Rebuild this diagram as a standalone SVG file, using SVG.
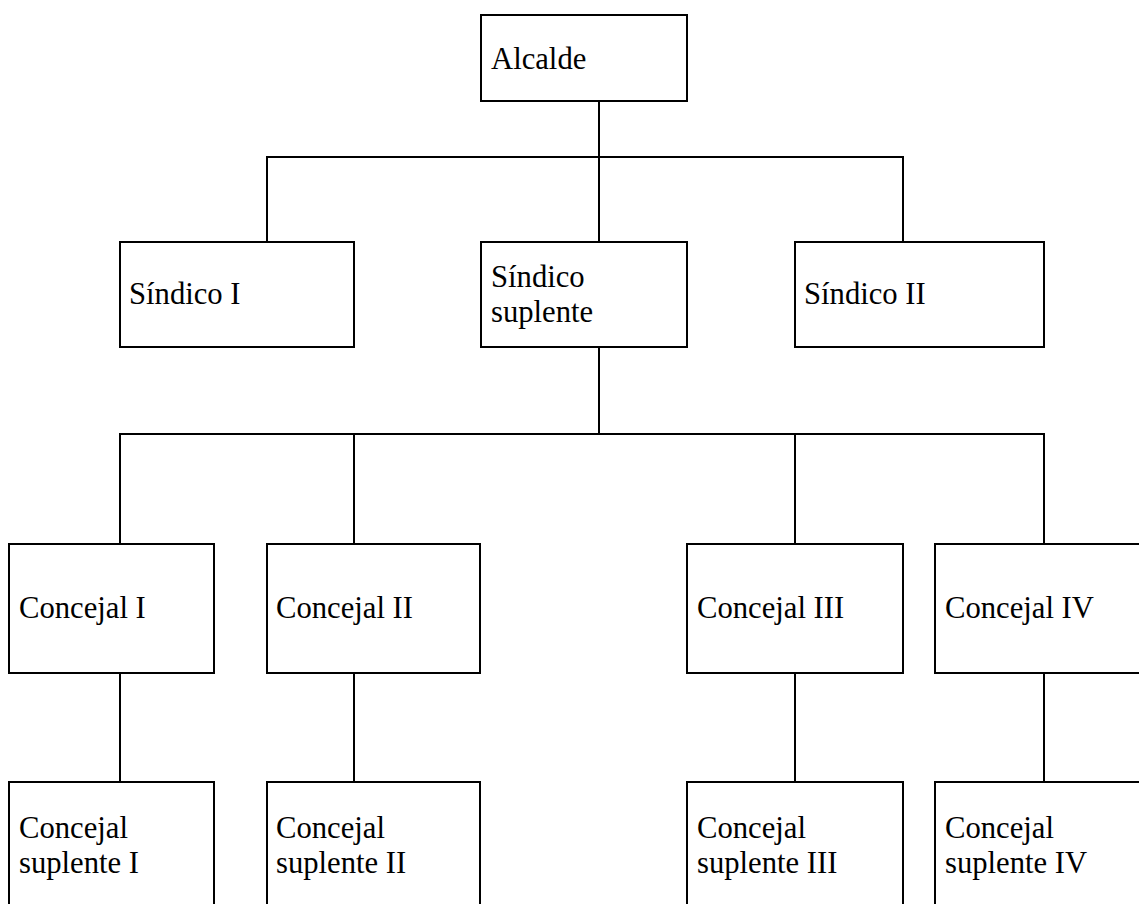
<svg xmlns="http://www.w3.org/2000/svg" width="1139" height="904" viewBox="0 0 1139 904">
<style>
.box{fill:#ffffff;stroke:#000000;stroke-width:2}
.t{font-family:"Liberation Serif","Times New Roman",serif;font-size:30.67px;fill:#000000}
.c{fill:none;stroke:#000000;stroke-width:2;stroke-linecap:square}
</style>
<rect width="1139" height="904" fill="#ffffff"/>
<g id="connectors">
<path class="c" d="M599 101V157M267 157H903M267 157V242M599 157V242M903 157V242"/>
<path class="c" d="M599 347V434M120 434H1044M120 434V544M354 434V544M795 434V544M1044 434V544"/>
<path class="c" d="M120 673V782M354 673V782M795 673V782M1044 673V782"/>
</g>
<g id="alcalde"><rect class="box" x="481" y="15" width="206" height="86"/><text class="t" x="491" y="69">Alcalde</text></g>
<g id="sindico1"><rect class="box" x="120" y="242" width="234" height="105"/><text class="t" x="129" y="304">Síndico I</text></g>
<g id="sindicoSuplente"><rect class="box" x="481" y="242" width="206" height="105"/><text class="t" x="491" y="287">Síndico</text><text class="t" x="491" y="322">suplente</text></g>
<g id="sindico2"><rect class="box" x="795" y="242" width="249" height="105"/><text class="t" x="804" y="304">Síndico II</text></g>
<g id="concejal1"><rect class="box" x="9" y="544" width="205" height="129"/><text class="t" x="19" y="618">Concejal I</text></g>
<g id="concejal2"><rect class="box" x="267" y="544" width="213" height="129"/><text class="t" x="276" y="618">Concejal II</text></g>
<g id="concejal3"><rect class="box" x="687" y="544" width="216" height="129"/><text class="t" x="697" y="618">Concejal III</text></g>
<g id="concejal4"><rect class="box" x="935" y="544" width="215" height="129"/><text class="t" x="945" y="618">Concejal IV</text></g>
<g id="suplente1"><rect class="box" x="9" y="782" width="205" height="150"/><text class="t" x="19" y="838">Concejal</text><text class="t" x="19" y="873">suplente I</text></g>
<g id="suplente2"><rect class="box" x="267" y="782" width="213" height="150"/><text class="t" x="276" y="838">Concejal</text><text class="t" x="276" y="873">suplente II</text></g>
<g id="suplente3"><rect class="box" x="687" y="782" width="216" height="150"/><text class="t" x="697" y="838">Concejal</text><text class="t" x="697" y="873">suplente III</text></g>
<g id="suplente4"><rect class="box" x="935" y="782" width="215" height="150"/><text class="t" x="945" y="838">Concejal</text><text class="t" x="945" y="873">suplente IV</text></g>
</svg>
